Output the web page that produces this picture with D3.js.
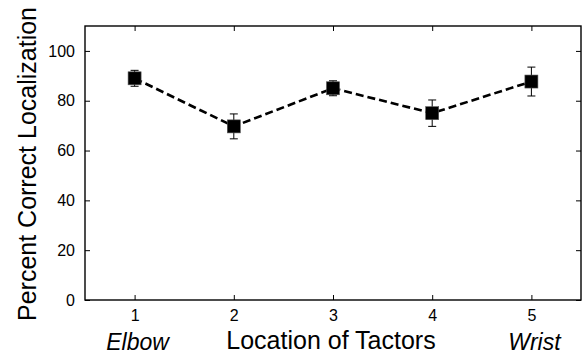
<!DOCTYPE html>
<html>
<head>
<meta charset="utf-8">
<script src="https://cdn.jsdelivr.net/npm/d3@7"></script>
<style>
  body { margin: 0; background: #fff; }
  svg text { font-family: "Liberation Sans", Arial, sans-serif; fill: #000; }
</style>
</head>
<body>
<svg id="chart" width="587" height="354"></svg>
<script>
// data
const locations = [1, 2, 3, 4, 5];
const percentCorrect = [89, 69.7, 85, 75, 87.7];
const errorHalf = [3.2, 5, 3, 5.3, 5.8];
const yTicks = [0, 20, 40, 60, 80, 100];
const endLabels = [{ x: 1, text: 'Elbow' }, { x: 5, text: 'Wrist' }];

const svg = d3.select('#chart');
const margin = { left: 85, top: 26, right: 6, bottom: 54 };
const W = 587, H = 354;

const x = d3.scaleLinear().domain([0.5, 5.5]).range([margin.left, W - margin.right]);
const y = d3.scaleLinear().domain([0, 110]).range([H - margin.bottom, margin.top]);

// inward ticks on all four sides
const tickLen = 5;
const g = svg.append('g');

g.append('g')
    .attr('transform', `translate(0,${y(0)})`)
    .call(d3.axisBottom(x).tickValues(locations).tickFormat(d3.format('d'))
        .tickSizeInner(-tickLen).tickSizeOuter(0).tickPadding(10))
    .call(a => a.select('.domain').remove())
    .call(a => a.selectAll('text').style('font-size', '16px'));

g.append('g')
    .attr('transform', `translate(0,${y(110)})`)
    .call(d3.axisTop(x).tickValues(locations).tickFormat('')
        .tickSizeInner(-tickLen).tickSizeOuter(0))
    .call(a => a.select('.domain').remove());

g.append('g')
    .attr('transform', `translate(${x(0.5)},0)`)
    .call(d3.axisLeft(y).tickValues(yTicks).tickFormat(d3.format('d'))
        .tickSizeInner(-tickLen).tickSizeOuter(0).tickPadding(10))
    .call(a => a.select('.domain').remove())
    .call(a => a.selectAll('text').style('font-size', '16px'));

g.append('g')
    .attr('transform', `translate(${x(5.5)},0)`)
    .call(d3.axisRight(y).tickValues(yTicks).tickFormat('')
        .tickSizeInner(-tickLen).tickSizeOuter(0))
    .call(a => a.select('.domain').remove());

g.selectAll('.tick line').attr('stroke', '#000').attr('stroke-width', 1);

// frame
svg.append('rect')
    .attr('x', x(0.5)).attr('y', y(110))
    .attr('width', x(5.5) - x(0.5)).attr('height', y(0) - y(110))
    .attr('fill', 'none').attr('stroke', '#000').attr('stroke-width', 1.4);

const pts = locations.map((d, i) => ({ x: d, v: percentCorrect[i], e: errorHalf[i] }));

// error bars
const eb = svg.append('g').attr('stroke', '#000').attr('stroke-width', 1);
eb.selectAll('.stem').data(pts).join('line')
    .attr('x1', d => x(d.x)).attr('x2', d => x(d.x))
    .attr('y1', d => y(d.v - d.e)).attr('y2', d => y(d.v + d.e));
eb.selectAll('.capT').data(pts).join('line')
    .attr('x1', d => x(d.x) - 4).attr('x2', d => x(d.x) + 4)
    .attr('y1', d => y(d.v + d.e)).attr('y2', d => y(d.v + d.e));
eb.selectAll('.capB').data(pts).join('line')
    .attr('x1', d => x(d.x) - 4).attr('x2', d => x(d.x) + 4)
    .attr('y1', d => y(d.v - d.e)).attr('y2', d => y(d.v - d.e));

// dashed line
svg.append('path')
    .datum(pts)
    .attr('fill', 'none').attr('stroke', '#000')
    .attr('stroke-width', 2.6).attr('stroke-dasharray', '8,4')
    .attr('d', d3.line().x(d => x(d.x)).y(d => y(d.v)));

// square markers
const s = 13;
svg.selectAll('.marker').data(pts).join('rect')
    .attr('x', d => x(d.x) - s / 2).attr('y', d => y(d.v) - s / 2)
    .attr('width', s).attr('height', s)
    .attr('fill', '#000').attr('stroke', '#555').attr('stroke-width', 0.6);

// axis titles
svg.append('text')
    .attr('x', (x(0.5) + x(5.5)) / 2 - 2).attr('y', 349)
    .attr('text-anchor', 'middle').attr('font-size', 25)
    .text('Location of Tactors');

svg.append('text')
    .attr('transform', `translate(36,${164}) rotate(-90)`)
    .attr('text-anchor', 'middle').attr('font-size', 25)
    .text('Percent Correct Localization');

svg.selectAll('.endlab').data(endLabels).join('text')
    .attr('x', d => x(d.x) + 3).attr('y', 350)
    .attr('text-anchor', 'middle').attr('font-size', 23)
    .attr('font-style', 'italic')
    .text(d => d.text);
</script>
</body>
</html>
